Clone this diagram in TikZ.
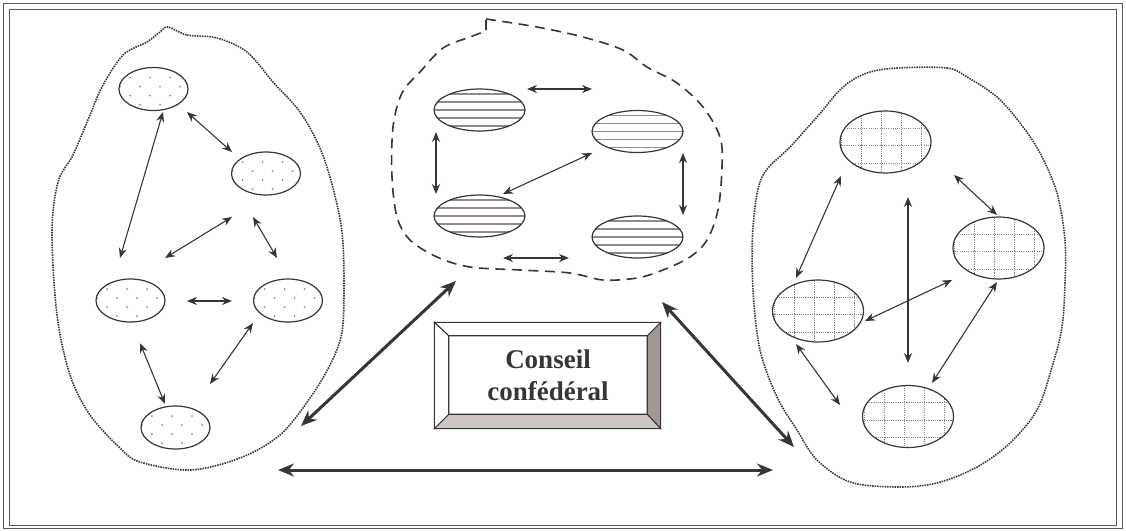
\documentclass[tikz,border=0pt]{standalone}
\usepackage{fontspec}
\setmainfont{Liberation Serif}
\usetikzlibrary{arrows.meta,calc,shapes.geometric}

\definecolor{ink}{HTML}{363636}
\definecolor{framecol}{HTML}{5A5A5A}
\definecolor{hatch}{HTML}{958985}
\definecolor{gridcol}{HTML}{8A817F}
\definecolor{bevdark}{HTML}{A39793}
\definecolor{bevlight}{HTML}{CEC6C3}

\tikzset{
  cell/.style={ellipse, draw=ink, line width=1.2pt, inner sep=0pt, fill=white},
  % dotted cells (left group)
  dotcell/.style={cell, minimum width=69pt, minimum height=43pt,
    path picture={
      \begin{scope}[shift={(path picture bounding box.center)}]
        \foreach \r in {0,...,4}{\foreach \c in {-2,...,2}{
          \fill[hatch] ({\c*20-23.5+mod(\r,2)*10},{-11.3+\r*9}) circle (1pt);}}
      \end{scope}}},
  % striped cells (middle group)
  stripecell/.style={cell, minimum width=91pt, minimum height=42pt,
    path picture={
      \begin{scope}[shift={(path picture bounding box.center)}]
        \foreach \r in {-2,...,2}{\draw[hatch, line width=1.3pt] (-50,\r*8) -- (50,\r*8);}
      \end{scope}}},
  % chequered cells (right group)
  gridline/.style={gridcol, line width=1pt, dash pattern=on 1.1pt off 1.1pt},
  gridcell/.style={cell, minimum width=91pt, minimum height=62pt,
    path picture={
      \begin{scope}[shift={(path picture bounding box.center)}]
        \foreach \c in {-44,-24,-4,16,36}{\draw[gridline] (\c,-35) -- (\c,35);}
        \foreach \r in {-31.5,-14,3.5,21}{\draw[gridline] (-50,\r) -- (50,\r);}
      \end{scope}}},
  link/.style={ink, line width=1.1pt,
    {Stealth[length=10pt,width=8pt]}-{Stealth[length=10pt,width=8pt]}},
  biglink/.style={ink, line width=3pt,
    {Stealth[length=16pt,width=13pt]}-{Stealth[length=16pt,width=13pt]}},
  dotblob/.style={ink, line width=1.6pt, dash pattern=on 1.5pt off 1pt},
  dashblob/.style={ink, line width=1.6pt, dash pattern=on 10pt off 6.5pt},
  framebox/.style={draw=framecol, line width=1pt},
}

\begin{document}
\begin{tikzpicture}[x=1pt, y=-1pt]
\useasboundingbox (0,0) rectangle (1126,530);

% double frame
\draw[framebox] (3.5,3.5) rectangle (1122.5,528.5);
\draw[framebox] (9.5,9.5) rectangle (1116.5,525);

% group outlines
\draw[dotblob] plot[smooth cycle, tension=0.55] coordinates {
  (168,27) (187,35) (217,38) (247,52) (273,82) (300,112) (320,148) (333,188)
  (342,232) (344,282) (342,332) (330,365) (310,398) (280,435) (240,458)
  (190,470) (140,462) (120,448) (90,415) (70,375) (57,315) (52,232) (58,182)
  (73,155) (90,115) (102,87) (123,55) (147,42) (160,32)};

\draw[dashblob] plot[smooth, tension=0.55] coordinates {
  (486,19) (537,27) (583,37) (623,50) (647,67) (677,83) (703,107) (720,137)
  (722,167) (718,210) (707,240) (690,257) (663,270) (637,278) (603,280)
  (570,273) (520,270) (470,267) (437,257) (410,240) (397,217) (392,177)
  (393,127) (402,93) (420,72) (443,48) (470,37) (486,31)} -- cycle;

\draw[dotblob] plot[smooth cycle, tension=0.55] coordinates {
  (897,68) (947,68) (967,77) (997,97) (1020,123) (1040,153) (1057,193)
  (1065,240) (1065,283) (1062,327) (1052,367) (1037,410) (1010,443) (977,467)
  (937,483) (897,487) (850,482) (817,460) (797,430) (777,397) (760,350)
  (753,290) (753,227) (762,177) (790,147) (817,117) (843,87) (867,73)};

% left group
\node[dotcell] (E1) at (153.5,89) {};
\node[dotcell] (E2) at (266,173.5) {};
\node[dotcell] (E3) at (130.5,300.5) {};
\node[dotcell] (E4) at (288,300.5) {};
\node[dotcell] (E5) at (175.5,427.5) {};

\draw[link] ($(E1)+(9.5,23)$) -- ($(E3)+(-10.5,-42.5)$);
\draw[link] ($(E1)+(33.5,23)$) -- ($(E2)+(-34,-21.5)$);
\draw[link] ($(E2)+(-34,43.5)$) -- ($(E3)+(34.5,-42.5)$);
\draw[link] ($(E2)+(-13,43.5)$) -- ($(E4)+(-11,-42.5)$);
\draw[link] ($(E3)+(56.5,0.5)$) -- ($(E4)+(-56,0.5)$);
\draw[link] ($(E3)+(9.5,42.5)$) -- ($(E5)+(-10.5,-23.5)$);
\draw[link] ($(E4)+(-35,22.5)$) -- ($(E5)+(34.5,-43.5)$);

% middle group
\node[stripecell] (M1) at (479.5,110) {};
\node[stripecell] (M2) at (637.5,131.5) {};
\node[stripecell] (M3) at (479.5,216) {};
\node[stripecell] (M4) at (637.5,237) {};

\draw[link] ($(M1)+(47.5,-21)$) -- ($(M2)+(-45.5,-42.5)$);
\draw[link, line width=1.4pt] ($(M1)+(-43.5,22)$) -- ($(M3)+(-43.5,-22)$);
\draw[link] ($(M2)+(-45.5,21.5)$) -- ($(M3)+(23.5,-22)$);
\draw[link, line width=1.4pt] ($(M2)+(45.5,21.5)$) -- ($(M4)+(45.5,-22)$);
\draw[link] ($(M3)+(23.5,42)$) -- ($(M4)+(-68.5,21)$);

% right group
\node[gridcell] (R1) at (885.5,142) {};
\node[gridcell] (R2) at (998.5,248) {};
\node[gridcell] (R3) at (818,311) {};
\node[gridcell] (R4) at (908,416.5) {};

\draw[link] ($(R1)+(-44.5,34)$) -- ($(R3)+(-22,-33)$);
\draw[link, line width=1.3pt] ($(R1)+(22.5,55)$) -- ($(R4)+(0,-53.5)$);
\draw[link] ($(R1)+(68.5,33)$) -- ($(R2)+(-1.5,-33)$);
\draw[link] ($(R2)+(-46.5,32)$) -- ($(R3)+(47,10)$);
\draw[link] ($(R2)+(-1.5,34)$) -- ($(R4)+(24,-33.5)$);
\draw[link] ($(R3)+(-22,33)$) -- ($(R4)+(-68,-11.5)$);

% links between the groups
\coordinate (leftUp)    at (301,426);
\coordinate (midLow)    at (456,281);
\coordinate (midRight)  at (662,302);
\coordinate (rightLow)  at (794,447);
\coordinate (leftFoot)  at (278,470);
\coordinate (rightFoot) at (773,470);
\draw[biglink] (leftUp) -- (midLow);
\draw[biglink] (midRight) -- (rightLow);
\draw[biglink] (leftFoot) -- (rightFoot);

% bevelled council box
\node[draw=ink, line width=1.2pt, minimum width=225pt, minimum height=105pt, inner sep=0pt]
  (cbox) at (547.5,375.5) {};
\node[minimum width=198pt, minimum height=78pt, inner sep=0pt]
  (cin) at (548,375) {};
\filldraw[fill=bevdark, draw=ink, line width=1pt]
  (cbox.north east) -- (cbox.south east) -- (cin.south east) -- (cin.north east) -- cycle;
\filldraw[fill=bevlight, draw=ink, line width=1pt]
  (cbox.south west) -- (cbox.south east) -- (cin.south east) -- (cin.south west) -- cycle;
\filldraw[fill=white, draw=ink, line width=1pt]
  (cbox.north west) -- (cbox.north east) -- (cin.north east) -- (cin.north west) -- cycle;
\filldraw[fill=white, draw=ink, line width=1pt]
  (cbox.north west) -- (cbox.south west) -- (cin.south west) -- (cin.north west) -- cycle;
\draw[ink, line width=1.2pt] (cbox.north west) rectangle (cbox.south east);
\draw[ink, line width=1.1pt] (cin.north west) rectangle (cin.south east);
\node[font=\bfseries\fontsize{27}{32}\selectfont, text=ink, align=center]
  (title) at (cin.center) {Conseil\\confédéral};

\end{tikzpicture}
\end{document}
